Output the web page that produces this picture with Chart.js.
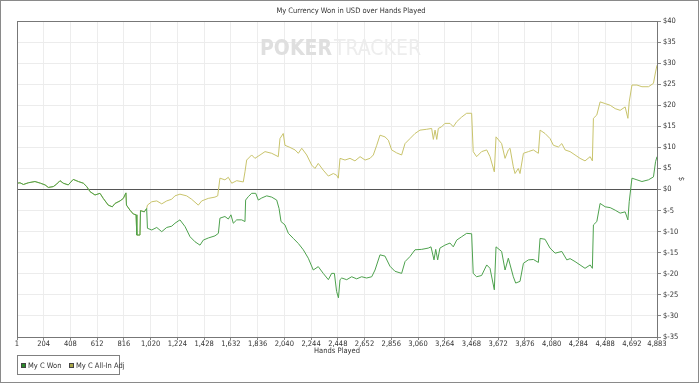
<!DOCTYPE html>
<html>
<head>
<meta charset="utf-8">
<script src="https://cdn.jsdelivr.net/npm/chart.js@4.4.1/dist/chart.umd.min.js"></script>
<style>
  body { margin: 0; background: #fff; }
  canvas { display: block; }
</style>
</head>
<body>
<canvas id="myChart" width="700" height="384"></canvas>
<script>
// hands played (x) and cumulative USD won (y)
var wonHands = [1, 24, 50, 87, 138, 180, 215, 240, 278, 304, 329, 354, 392, 430, 469, 507, 533, 558, 596, 634,
  659, 697, 728, 749, 787, 812, 832, 836, 863, 888, 909, 915, 939, 943, 972, 990, 996, 1029, 1067, 1105,
  1143, 1181, 1206, 1244, 1283, 1321, 1359, 1397, 1422, 1460, 1511, 1537, 1549, 1587, 1613, 1633, 1651, 1677, 1715, 1740,
  1745, 1765, 1791, 1822, 1842, 1868, 1906, 1944, 1982, 2000, 2015, 2045, 2071, 2109, 2147, 2185, 2223, 2261, 2299, 2337,
  2376, 2401, 2422, 2439, 2453, 2465, 2478, 2516, 2554, 2592, 2630, 2668, 2707, 2732, 2770, 2808, 2846, 2884, 2935, 2961,
  2999, 3037, 3088, 3138, 3159, 3182, 3195, 3210, 3227, 3265, 3304, 3329, 3355, 3393, 3431, 3469, 3481, 3507, 3545, 3584,
  3609, 3642, 3655, 3698, 3724, 3749, 3787, 3805, 3838, 3864, 3902, 3940, 3978, 3991, 4029, 4067, 4106, 4157, 4195, 4220,
  4258, 4296, 4334, 4373, 4390, 4398, 4424, 4449, 4488, 4526, 4564, 4602, 4640, 4661, 4671, 4692, 4730, 4768, 4818, 4856,
  4872, 4883];
var wonValues = [1.5, 1.6, 1.2, 1.6, 1.9, 1.5, 1.1, 0.5, 0.7, 1.3, 2.1, 1.5, 1.1, 2.4, 1.9, 1.5, 0.7, -0.5, -1.3, -0.9,
  -2.1, -3.7, -4.1, -3.3, -2.7, -2.1, -0.8, -3.7, -4.9, -5.8, -6.0, -10.8, -10.8, -5.0, -5.3, -4.5, -9.2, -9.6, -9.0, -10.0,
  -9.0, -8.7, -8.0, -7.2, -8.8, -11.2, -12.4, -13.2, -12.0, -11.5, -11.0, -10.4, -6.8, -6.4, -7.0, -6.0, -8.0, -7.2, -7.2, -7.6,
  -2.5, -1.7, -0.9, -0.9, -2.5, -2.0, -1.5, -1.8, -2.5, -4.5, -7.6, -8.4, -10.4, -11.6, -12.8, -14.3, -16.3, -19.1, -18.3, -19.9,
  -21.4, -19.9, -19.9, -24.2, -25.7, -21.4, -21.0, -21.4, -20.7, -21.2, -20.7, -21.0, -20.7, -19.1, -15.5, -15.8, -18.2, -19.4, -19.9, -17.1,
  -15.9, -14.3, -14.2, -13.9, -13.6, -16.7, -14.2, -16.7, -13.9, -13.2, -12.7, -13.6, -12.0, -11.2, -10.4, -10.5, -19.9, -20.7, -20.4, -17.9,
  -18.7, -23.8, -13.6, -14.7, -19.1, -16.3, -20.7, -22.2, -21.8, -17.5, -16.7, -16.6, -17.3, -11.6, -11.8, -13.9, -15.1, -14.7, -16.7, -16.4,
  -17.1, -17.9, -18.7, -17.9, -18.7, -8.4, -7.6, -3.3, -4.1, -4.3, -4.9, -5.6, -5.3, -7.2, -2.9, 2.7, 2.3, 1.9, 2.3, 3.0,
  6.6, 7.8];

var adjHands = [1, 24, 50, 87, 138, 180, 215, 240, 278, 304, 329, 354, 392, 430, 469, 507, 533, 558, 596, 634,
  659, 697, 728, 749, 787, 812, 832, 836, 863, 888, 909, 915, 939, 943, 972, 990, 996, 1029, 1067, 1105,
  1143, 1181, 1206, 1244, 1295, 1333, 1384, 1410, 1460, 1511, 1532, 1549, 1587, 1613, 1639, 1677, 1727, 1740, 1753, 1791,
  1816, 1855, 1893, 1944, 1969, 1994, 2007, 2032, 2045, 2083, 2122, 2147, 2173, 2211, 2249, 2274, 2299, 2337, 2376, 2414,
  2439, 2452, 2465, 2503, 2541, 2579, 2618, 2656, 2694, 2719, 2745, 2770, 2808, 2834, 2859, 2897, 2935, 2961, 2999, 3037,
  3075, 3126, 3164, 3177, 3190, 3203, 3215, 3240, 3265, 3304, 3329, 3355, 3393, 3431, 3469, 3481, 3507, 3545, 3584, 3609,
  3642, 3655, 3698, 3724, 3749, 3762, 3787, 3800, 3825, 3838, 3864, 3902, 3940, 3978, 3991, 4029, 4067, 4093, 4131, 4157,
  4182, 4220, 4258, 4296, 4334, 4373, 4390, 4398, 4424, 4449, 4488, 4526, 4564, 4602, 4640, 4661, 4671, 4692, 4730, 4768,
  4818, 4856, 4872, 4883];
var adjValues = [1.5, 1.6, 1.2, 1.6, 1.9, 1.5, 1.1, 0.5, 0.7, 1.3, 2.1, 1.5, 1.1, 2.4, 1.9, 1.5, 0.7, -0.5, -1.3, -0.9,
  -2.1, -3.7, -4.1, -3.3, -2.7, -2.1, -0.8, -3.7, -4.9, -5.8, -6.0, -10.8, -10.8, -5.0, -5.3, -4.5, -3.7, -2.9, -2.7, -3.4,
  -2.7, -2.3, -1.5, -1.1, -1.5, -2.3, -3.7, -2.7, -2.1, -1.8, -1.5, 2.7, 2.3, 2.9, 1.5, 2.1, 1.8, 4.2, 7.0, 8.2,
  7.4, 8.2, 9.0, 8.6, 8.2, 7.8, 12.1, 13.3, 10.5, 10.0, 9.4, 8.6, 9.8, 8.2, 5.8, 5.0, 6.2, 4.6, 3.2, 3.8,
  3.4, 2.7, 7.4, 7.0, 7.4, 6.8, 7.8, 7.0, 7.4, 8.2, 10.5, 12.9, 12.5, 11.7, 9.4, 8.7, 8.2, 10.9, 12.1, 13.3,
  14.1, 14.3, 14.5, 11.9, 14.1, 11.9, 14.5, 14.9, 15.7, 15.7, 14.9, 16.1, 17.2, 18.1, 18.1, 9.0, 7.8, 9.0, 9.4, 7.8,
  4.2, 12.5, 10.9, 7.4, 9.4, 9.8, 5.4, 3.8, 5.0, 3.8, 8.6, 9.0, 9.4, 8.6, 14.1, 13.3, 12.1, 10.5, 10.1, 10.9,
  9.4, 9.0, 8.2, 7.4, 6.8, 7.8, 6.8, 16.9, 17.7, 20.8, 20.4, 20.0, 19.2, 18.8, 19.6, 16.9, 20.8, 24.8, 24.8, 24.4,
  24.4, 25.2, 27.9, 29.5];

var handTicks = [1, 204, 408, 612, 816, 1020, 1224, 1428, 1632, 1836, 2040, 2244, 2448, 2652, 2856, 3060,
  3264, 3468, 3672, 3876, 4080, 4284, 4488, 4692, 4883];
var seriesNames = ['My C Won', 'My C All-In Adj'];
var seriesColors = ['#4ea24e', '#c9c46c'];
var legendFills = ['#2b8a2b', '#a9a648'];

var narrow = "'Liberation Sans Narrow', 'DejaVu Sans Condensed', 'Liberation Sans', sans-serif";
Chart.defaults.font.family = narrow;
Chart.defaults.font.size = 7.5;
Chart.defaults.color = '#333';

function toPoints(xs, ys) {
  var pts = [];
  for (var i = 0; i < xs.length; i++) {
    pts.push({ x: xs[i], y: ys[i] });
  }
  return pts;
}

var frame = {
  id: 'frame',
  beforeDraw: function (chart) {
    var c = chart.ctx;
    c.save();
    c.fillStyle = '#fff';
    c.fillRect(0, 0, chart.width, chart.height);
    c.restore();
  },
  beforeDatasetsDraw: function (chart) {
    // faint watermark behind the lines
    var c = chart.ctx;
    c.save();
    c.textBaseline = 'alphabetic';
    c.font = 'bold 21px ' + narrow;
    c.fillStyle = '#dfdfdf';
    c.fillText('POKER', 260, 55);
    var w = c.measureText('POKER').width;
    c.font = '21px ' + narrow;
    c.fillStyle = '#ededed';
    c.fillText('TRACKER', 260 + w + 2, 55);
    c.restore();
  },
  afterDraw: function (chart) {
    var c = chart.ctx;
    var a = chart.chartArea;
    c.save();
    c.strokeStyle = '#777';
    c.lineWidth = 1;
    c.strokeRect(Math.round(a.left) + 0.5, Math.round(a.top) + 0.5,
      Math.round(a.right - a.left), Math.round(a.bottom - a.top));
    c.strokeStyle = '#8a8a8a';
    c.strokeRect(0.5, 0.5, chart.width - 2, chart.height - 2);

    // legend box
    c.strokeStyle = '#808080';
    c.strokeRect(17.5, 355.5, 102, 19);
    var xs = [21, 69];
    c.font = '7.5px ' + narrow;
    c.textBaseline = 'middle';
    for (var i = 0; i < seriesNames.length; i++) {
      c.fillStyle = legendFills[i];
      c.fillRect(xs[i], 363, 5, 5);
      c.strokeStyle = '#444';
      c.strokeRect(xs[i] + 0.5, 363.5, 4, 4);
      c.fillStyle = '#333';
      c.fillText(seriesNames[i], xs[i] + 7, 366);
    }
    c.restore();
  }
};

var ctx = document.getElementById('myChart').getContext('2d');
var chart = new Chart(ctx, {
  type: 'line',
  data: {
    datasets: [{
      label: seriesNames[0],
      data: toPoints(wonHands, wonValues),
      borderColor: seriesColors[0],
      borderWidth: 1,
      pointRadius: 0,
      tension: 0
    }, {
      label: seriesNames[1],
      data: toPoints(adjHands, adjValues),
      borderColor: seriesColors[1],
      borderWidth: 1,
      pointRadius: 0,
      tension: 0
    }]
  },
  options: {
    responsive: false,
    animation: false,
    events: [],
    layout: {
      padding: { left: 17, right: 15, top: 0, bottom: 28 }
    },
    scales: {
      x: {
        type: 'linear',
        min: 1,
        max: 4883,
        afterBuildTicks: function (scale) {
          scale.ticks = handTicks.map(function (v) { return { value: v }; });
        },
        afterFit: function (scale) {
          scale.height = 19;
        },
        ticks: {
          autoSkip: false,
          maxRotation: 0,
          padding: 0,
          callback: function (v) { return v.toLocaleString('en-US'); }
        },
        grid: {
          color: '#ededed',
          tickColor: '#888',
          tickLength: 3
        },
        border: { color: '#777' },
        title: {
          display: true,
          text: 'Hands Played',
          padding: 0
        }
      },
      y: {
        position: 'right',
        min: -35,
        max: 40,
        afterFit: function (scale) {
          scale.width = 28;
        },
        ticks: {
          stepSize: 5,
          padding: 2,
          callback: function (v) { return '$' + v; }
        },
        grid: {
          color: function (c) { return c.tick && c.tick.value === 0 ? '#555' : '#ececec'; },
          tickColor: '#888',
          tickLength: 4
        },
        border: { color: '#888' },
        title: {
          display: true,
          text: '$',
          padding: 0
        }
      }
    },
    plugins: {
      legend: { display: false },
      tooltip: { enabled: false },
      title: {
        display: true,
        text: 'My Currency Won in USD over Hands Played',
        font: { size: 7.5, weight: 'normal' },
        color: '#333',
        padding: { top: 7, bottom: 5 }
      }
    }
  },
  plugins: [frame]
});
</script>
</body>
</html>
